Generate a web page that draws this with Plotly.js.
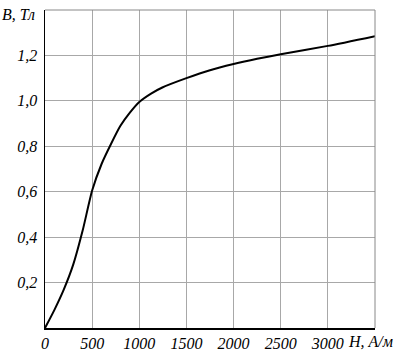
<!DOCTYPE html>
<html>
<head>
<meta charset="utf-8">
<script src="https://cdn.plot.ly/plotly-3.0.1.min.js"></script>
<style>html,body{margin:0;padding:0;background:#fff;}#chart{width:404px;height:355px;}</style>
</head>
<body>
<div id="chart"></div>
<script>
// Magnetization curve B(H)
var H = [0, 100, 200, 300, 400, 500, 600, 700, 800, 900, 1000, 1125, 1250, 1500, 1750, 2000, 2250, 2500, 3000, 3500];
var B = [0, 0.08, 0.17, 0.28, 0.43, 0.605, 0.722, 0.81, 0.89, 0.948, 0.995, 1.032, 1.06, 1.10, 1.135, 1.162, 1.185, 1.205, 1.242, 1.285];
var xTicks = [0, 500, 1000, 1500, 2000, 2500, 3000, 3500];
var xTickText = ['0', '500', '1000', '1500', '2000', '2500', '3000', ''];
var yTicks = [0, 0.2, 0.4, 0.6, 0.8, 1.0, 1.2, 1.4];
var yTickText = ['', '0,2', '0,4', '0,6', '0,8', '1,0', '1,2', ''];
var xLabel = 'H, А/м';
var yLabel = 'B, Тл';

var fam = '"Liberation Serif", "Times New Roman", serif';
var tf = {family: fam, size: 16, color: '#000', style: 'italic'};

var trace = {
  x: H, y: B, type: 'scatter', mode: 'lines',
  line: {color: '#000', width: 2, shape: 'spline', smoothing: 0.6},
  hoverinfo: 'none'
};

var layout = {
  width: 404, height: 355,
  margin: {l: 45, r: 29, t: 10, b: 27},
  paper_bgcolor: '#fff', plot_bgcolor: '#fff',
  showlegend: false,
  font: {family: fam, size: 16, color: '#000'},
  xaxis: {
    range: [0, 3500], tickmode: 'array', tickvals: xTicks, ticktext: xTickText,
    showgrid: true, gridcolor: '#a8a8a8', gridwidth: 1,
    zeroline: false, showline: true, linecolor: '#000', linewidth: 1.5,
    ticks: '', tickfont: tf, fixedrange: true
  },
  yaxis: {
    range: [0, 1.4], tickmode: 'array', tickvals: yTicks, ticktext: yTickText,
    showgrid: true, gridcolor: '#a8a8a8', gridwidth: 1,
    zeroline: false, showline: true, linecolor: '#000', linewidth: 1.5,
    ticks: 'outside', ticklen: 3, tickcolor: 'rgba(0,0,0,0)',
    tickfont: tf, fixedrange: true
  },
  shapes: [
    {type: 'line', xref: 'paper', yref: 'paper', x0: 0, x1: 1, y0: 1, y1: 1, line: {color: '#888', width: 1}},
    {type: 'line', xref: 'paper', yref: 'paper', x0: 1, x1: 1, y0: 0, y1: 1, line: {color: '#888', width: 1}}
  ],
  annotations: [
    {text: xLabel, xref: 'paper', yref: 'paper', x: 0.912, y: -0.042, xanchor: 'left', yanchor: 'middle',
     showarrow: false, font: tf},
    {text: yLabel, xref: 'paper', yref: 'paper', x: -0.136, y: 0.985, xanchor: 'left', yanchor: 'middle',
     showarrow: false, font: tf}
  ]
};

Plotly.newPlot('chart', [trace], layout, {staticPlot: true, displayModeBar: false});
</script>
</body>
</html>
